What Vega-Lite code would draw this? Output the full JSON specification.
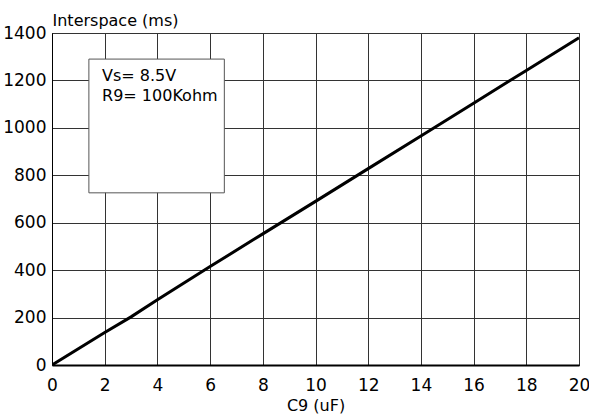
{
  "$schema": "https://vega.github.io/schema/vega-lite/v6.json",
  "autosize": "none",
  "width": 527,
  "height": 332,
  "padding": {"left": 52, "top": 33, "right": 10, "bottom": 54},
  "background": "white",
  "config": {
    "font": "DejaVu Sans",
    "view": {"stroke": "black", "strokeWidth": 1},
    "axis": {
      "labelFont": "DejaVu Sans",
      "labelFontSize": 17,
      "labelColor": "black",
      "titleFont": "DejaVu Sans",
      "titleFontSize": 16,
      "titleFontWeight": "normal",
      "titleColor": "black",
      "ticks": false,
      "gridColor": "#333333",
      "gridWidth": 1,
      "gridOpacity": 1
    }
  },
  "layer": [
    {
      "data": {"values": [
        {"c9": 0, "ms": 0},
        {"c9": 2, "ms": 137},
        {"c9": 3, "ms": 203},
        {"c9": 4, "ms": 275},
        {"c9": 6, "ms": 415},
        {"c9": 8, "ms": 553},
        {"c9": 10, "ms": 690},
        {"c9": 12, "ms": 828},
        {"c9": 14, "ms": 966},
        {"c9": 16, "ms": 1104},
        {"c9": 18, "ms": 1242},
        {"c9": 20, "ms": 1380}
      ]},
      "mark": {"type": "line", "color": "black", "strokeWidth": 3, "clip": true},
      "encoding": {
        "x": {
          "field": "c9", "type": "quantitative",
          "scale": {"domain": [0, 20], "nice": false, "zero": false},
          "axis": {
            "values": [0, 2, 4, 6, 8, 10, 12, 14, 16, 18, 20],
            "format": "d",
            "title": "C9 (uF)",
            "titlePadding": 4,
            "labelPadding": 12,
            "labelFlush": false,
            "domainColor": "black",
            "domainWidth": 2
          }
        },
        "y": {
          "field": "ms", "type": "quantitative",
          "scale": {"domain": [0, 1400], "nice": false},
          "axis": {
            "values": [0, 200, 400, 600, 800, 1000, 1200, 1400],
            "format": "d",
            "title": "Interspace (ms)",
            "titleAngle": 0,
            "titleAlign": "left",
            "titleBaseline": "alphabetic",
            "titleX": 0,
            "titleY": -8,
            "labelPadding": 6,
            "labelFlush": false,
            "domainColor": "black",
            "domainWidth": 1
          }
        }
      }
    },
    {
      "data": {"values": [{"x1": 1.4, "x2": 6.54, "y1": 726, "y2": 1290}]},
      "mark": {"type": "rect", "fill": "white", "stroke": "#555555", "strokeWidth": 1},
      "encoding": {
        "x": {"field": "x1", "type": "quantitative"},
        "x2": {"field": "x2"},
        "y": {"field": "y1", "type": "quantitative"},
        "y2": {"field": "y2"}
      }
    },
    {
      "data": {"values": [
        {"x": 1.9, "y": 1196, "label": "Vs= 8.5V"},
        {"x": 1.9, "y": 1112, "label": "R9= 100Kohm"}
      ]},
      "mark": {"type": "text", "align": "left", "baseline": "alphabetic", "fontSize": 16, "font": "DejaVu Sans", "color": "black"},
      "encoding": {
        "x": {"field": "x", "type": "quantitative"},
        "y": {"field": "y", "type": "quantitative"},
        "text": {"field": "label"}
      }
    }
  ]
}
